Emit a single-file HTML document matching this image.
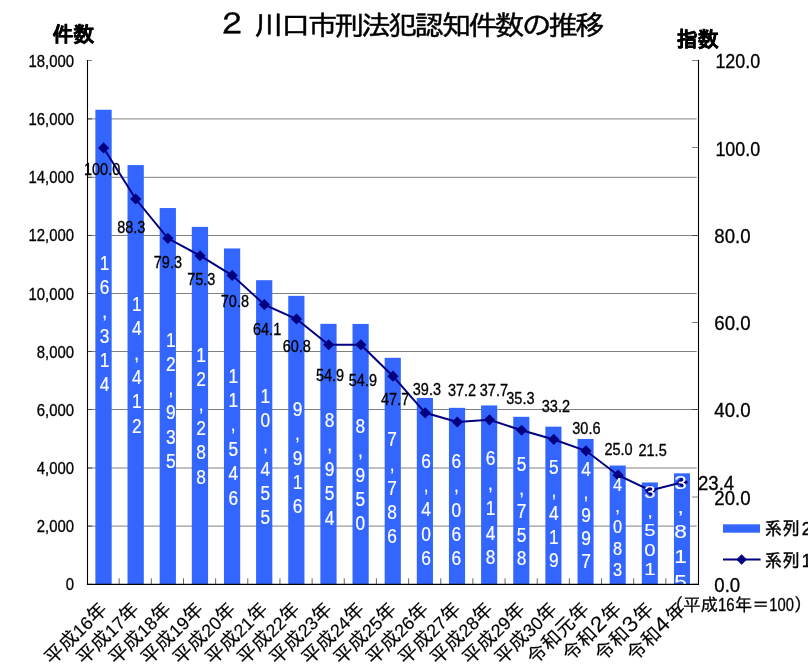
<!DOCTYPE html>
<html lang="ja"><head><meta charset="utf-8"><title>２ 川口市刑法犯認知件数の推移</title>
<style>html,body{margin:0;padding:0;background:#fff;overflow:hidden}svg{display:block}text{font-family:'Liberation Sans', 'IPAGothic', sans-serif;fill:#000}.g{font-family:'IPAGothic', 'Liberation Sans', sans-serif}.w{fill:#fff}.m{font-family:'Liberation Sans', 'IPAGothic', sans-serif}</style></head><body>
<svg xmlns="http://www.w3.org/2000/svg" width="808" height="665" viewBox="0 0 808 665">
<rect width="808" height="665" fill="#fff"/>
<defs><clipPath id="pc"><rect x="0" y="0" width="808" height="583.80"/></clipPath></defs>
<line x1="87.50" y1="526.10" x2="696.70" y2="526.10" stroke="#808080" stroke-width="1"/>
<line x1="87.50" y1="468.00" x2="696.70" y2="468.00" stroke="#808080" stroke-width="1"/>
<line x1="87.50" y1="409.50" x2="696.70" y2="409.50" stroke="#808080" stroke-width="1"/>
<line x1="87.50" y1="351.50" x2="696.70" y2="351.50" stroke="#808080" stroke-width="1"/>
<line x1="87.50" y1="293.50" x2="696.70" y2="293.50" stroke="#808080" stroke-width="1"/>
<line x1="87.50" y1="235.50" x2="696.70" y2="235.50" stroke="#808080" stroke-width="1"/>
<line x1="87.50" y1="177.30" x2="696.70" y2="177.30" stroke="#808080" stroke-width="1"/>
<line x1="87.50" y1="118.90" x2="696.70" y2="118.90" stroke="#808080" stroke-width="1"/>
<rect x="95.38" y="109.74" width="16.30" height="474.56" fill="#3366ff"/>
<rect x="127.52" y="165.07" width="16.29" height="419.23" fill="#3366ff"/>
<rect x="159.66" y="208.04" width="16.27" height="376.26" fill="#3366ff"/>
<rect x="191.81" y="226.86" width="16.25" height="357.44" fill="#3366ff"/>
<rect x="223.95" y="248.44" width="16.24" height="335.86" fill="#3366ff"/>
<rect x="256.09" y="280.18" width="16.23" height="304.12" fill="#3366ff"/>
<rect x="288.24" y="295.85" width="16.21" height="288.45" fill="#3366ff"/>
<rect x="320.38" y="323.84" width="16.20" height="260.46" fill="#3366ff"/>
<rect x="352.52" y="323.95" width="16.18" height="260.35" fill="#3366ff"/>
<rect x="384.67" y="357.81" width="16.16" height="226.49" fill="#3366ff"/>
<rect x="416.81" y="397.96" width="16.15" height="186.34" fill="#3366ff"/>
<rect x="448.95" y="407.85" width="16.14" height="176.45" fill="#3366ff"/>
<rect x="481.09" y="405.46" width="16.12" height="178.84" fill="#3366ff"/>
<rect x="513.24" y="416.81" width="16.11" height="167.49" fill="#3366ff"/>
<rect x="545.38" y="426.67" width="16.09" height="157.63" fill="#3366ff"/>
<rect x="577.52" y="438.94" width="16.07" height="145.36" fill="#3366ff"/>
<rect x="609.67" y="465.53" width="16.06" height="118.77" fill="#3366ff"/>
<rect x="641.81" y="482.46" width="16.05" height="101.84" fill="#3366ff"/>
<rect x="673.95" y="473.33" width="16.03" height="110.97" fill="#3366ff"/>
<line x1="87.50" y1="584.30" x2="92.10" y2="584.30" stroke="#808080" stroke-width="1"/>
<line x1="87.50" y1="526.10" x2="92.10" y2="526.10" stroke="#4a4a4a" stroke-width="1"/>
<line x1="87.50" y1="468.00" x2="92.10" y2="468.00" stroke="#4a4a4a" stroke-width="1"/>
<line x1="87.50" y1="409.50" x2="92.10" y2="409.50" stroke="#4a4a4a" stroke-width="1"/>
<line x1="87.50" y1="351.50" x2="92.10" y2="351.50" stroke="#4a4a4a" stroke-width="1"/>
<line x1="87.50" y1="293.50" x2="92.10" y2="293.50" stroke="#4a4a4a" stroke-width="1"/>
<line x1="87.50" y1="235.50" x2="92.10" y2="235.50" stroke="#4a4a4a" stroke-width="1"/>
<line x1="87.50" y1="177.30" x2="92.10" y2="177.30" stroke="#4a4a4a" stroke-width="1"/>
<line x1="87.50" y1="118.90" x2="92.10" y2="118.90" stroke="#4a4a4a" stroke-width="1"/>
<line x1="87.50" y1="60.50" x2="92.10" y2="60.50" stroke="#808080" stroke-width="1"/>
<line x1="692.10" y1="584.30" x2="698.50" y2="584.30" stroke="#808080" stroke-width="1"/>
<line x1="692.10" y1="497.00" x2="698.50" y2="497.00" stroke="#808080" stroke-width="1"/>
<line x1="692.10" y1="409.50" x2="698.50" y2="409.50" stroke="#4a4a4a" stroke-width="1"/>
<line x1="692.10" y1="322.50" x2="698.50" y2="322.50" stroke="#808080" stroke-width="1"/>
<line x1="692.10" y1="235.50" x2="698.50" y2="235.50" stroke="#4a4a4a" stroke-width="1"/>
<line x1="692.10" y1="147.50" x2="698.50" y2="147.50" stroke="#808080" stroke-width="1"/>
<line x1="692.10" y1="60.50" x2="698.50" y2="60.50" stroke="#808080" stroke-width="1"/>
<line x1="119.16" y1="578.30" x2="119.16" y2="584.30" stroke="#666" stroke-width="1"/>
<line x1="151.32" y1="578.30" x2="151.32" y2="584.30" stroke="#666" stroke-width="1"/>
<line x1="183.47" y1="578.30" x2="183.47" y2="584.30" stroke="#666" stroke-width="1"/>
<line x1="215.63" y1="578.30" x2="215.63" y2="584.30" stroke="#666" stroke-width="1"/>
<line x1="247.79" y1="578.30" x2="247.79" y2="584.30" stroke="#666" stroke-width="1"/>
<line x1="279.95" y1="578.30" x2="279.95" y2="584.30" stroke="#666" stroke-width="1"/>
<line x1="312.11" y1="578.30" x2="312.11" y2="584.30" stroke="#666" stroke-width="1"/>
<line x1="344.26" y1="578.30" x2="344.26" y2="584.30" stroke="#666" stroke-width="1"/>
<line x1="376.42" y1="578.30" x2="376.42" y2="584.30" stroke="#666" stroke-width="1"/>
<line x1="408.58" y1="578.30" x2="408.58" y2="584.30" stroke="#666" stroke-width="1"/>
<line x1="440.74" y1="578.30" x2="440.74" y2="584.30" stroke="#666" stroke-width="1"/>
<line x1="472.89" y1="578.30" x2="472.89" y2="584.30" stroke="#666" stroke-width="1"/>
<line x1="505.05" y1="578.30" x2="505.05" y2="584.30" stroke="#666" stroke-width="1"/>
<line x1="537.21" y1="578.30" x2="537.21" y2="584.30" stroke="#666" stroke-width="1"/>
<line x1="569.37" y1="578.30" x2="569.37" y2="584.30" stroke="#666" stroke-width="1"/>
<line x1="601.53" y1="578.30" x2="601.53" y2="584.30" stroke="#666" stroke-width="1"/>
<line x1="633.68" y1="578.30" x2="633.68" y2="584.30" stroke="#666" stroke-width="1"/>
<line x1="665.84" y1="578.30" x2="665.84" y2="584.30" stroke="#666" stroke-width="1"/>
<path d="M87.50 60.00 V584.90 M698.50 60.00 V584.90" fill="none" stroke="#000" stroke-width="1.1"/>
<line x1="87.00" y1="584.30" x2="699.00" y2="584.30" stroke="#000" stroke-width="1.3"/>
<polyline points="103.58,147.97 135.74,199.02 167.89,238.29 200.05,255.74 232.21,275.38 264.37,304.61 296.53,319.01 328.68,344.75 360.84,344.75 393.00,376.17 425.16,412.82 457.32,421.98 489.47,419.80 521.63,430.27 553.79,439.44 585.95,450.78 618.11,475.22 650.26,490.49 682.42,482.20" fill="none" stroke="#000080" stroke-width="2"/>
<path d="M103.58 142.37 L109.18 147.97 L103.58 153.57 L97.98 147.97 Z" fill="#000080"/>
<path d="M135.74 193.42 L141.34 199.02 L135.74 204.62 L130.14 199.02 Z" fill="#000080"/>
<path d="M167.89 232.69 L173.49 238.29 L167.89 243.89 L162.29 238.29 Z" fill="#000080"/>
<path d="M200.05 250.14 L205.65 255.74 L200.05 261.34 L194.45 255.74 Z" fill="#000080"/>
<path d="M232.21 269.78 L237.81 275.38 L232.21 280.98 L226.61 275.38 Z" fill="#000080"/>
<path d="M264.37 299.01 L269.97 304.61 L264.37 310.21 L258.77 304.61 Z" fill="#000080"/>
<path d="M296.53 313.41 L302.13 319.01 L296.53 324.61 L290.93 319.01 Z" fill="#000080"/>
<path d="M328.68 339.15 L334.28 344.75 L328.68 350.35 L323.08 344.75 Z" fill="#000080"/>
<path d="M360.84 339.15 L366.44 344.75 L360.84 350.35 L355.24 344.75 Z" fill="#000080"/>
<path d="M393.00 370.57 L398.60 376.17 L393.00 381.77 L387.40 376.17 Z" fill="#000080"/>
<path d="M425.16 407.22 L430.76 412.82 L425.16 418.42 L419.56 412.82 Z" fill="#000080"/>
<path d="M457.32 416.38 L462.92 421.98 L457.32 427.58 L451.72 421.98 Z" fill="#000080"/>
<path d="M489.47 414.20 L495.07 419.80 L489.47 425.40 L483.87 419.80 Z" fill="#000080"/>
<path d="M521.63 424.67 L527.23 430.27 L521.63 435.87 L516.03 430.27 Z" fill="#000080"/>
<path d="M553.79 433.84 L559.39 439.44 L553.79 445.04 L548.19 439.44 Z" fill="#000080"/>
<path d="M585.95 445.18 L591.55 450.78 L585.95 456.38 L580.35 450.78 Z" fill="#000080"/>
<path d="M618.11 469.62 L623.71 475.22 L618.11 480.82 L612.51 475.22 Z" fill="#000080"/>
<path d="M650.26 484.89 L655.86 490.49 L650.26 496.09 L644.66 490.49 Z" fill="#000080"/>
<path d="M682.42 476.60 L688.02 482.20 L682.42 487.80 L676.82 482.20 Z" fill="#000080"/>
<g clip-path="url(#pc)">
<text class="w" transform="translate(104.58,270.30) scale(0.890,1)" font-size="19.50" text-anchor="middle" stroke="#fff" stroke-width="0.20"><tspan x="0" y="0.00">1</tspan><tspan x="0" y="24.10">6</tspan><tspan x="0" y="48.20">,</tspan><tspan x="0" y="72.30">3</tspan><tspan x="0" y="96.40">1</tspan><tspan x="0" y="120.50">4</tspan></text>
<text class="w" transform="translate(136.74,311.20) scale(0.890,1)" font-size="19.50" text-anchor="middle" stroke="#fff" stroke-width="0.20"><tspan x="0" y="0.00">1</tspan><tspan x="0" y="24.30">4</tspan><tspan x="0" y="48.60">,</tspan><tspan x="0" y="72.90">4</tspan><tspan x="0" y="97.20">1</tspan><tspan x="0" y="121.50">2</tspan></text>
<text class="w" transform="translate(170.89,346.50) scale(0.890,1)" font-size="19.50" text-anchor="middle" stroke="#fff" stroke-width="0.20"><tspan x="0" y="0.00">1</tspan><tspan x="0" y="24.30">2</tspan><tspan x="0" y="48.60">,</tspan><tspan x="0" y="72.90">9</tspan><tspan x="0" y="97.20">3</tspan><tspan x="0" y="121.50">5</tspan></text>
<text class="w" transform="translate(201.05,362.10) scale(0.890,1)" font-size="19.50" text-anchor="middle" stroke="#fff" stroke-width="0.20"><tspan x="0" y="0.00">1</tspan><tspan x="0" y="24.30">2</tspan><tspan x="0" y="48.60">,</tspan><tspan x="0" y="72.90">2</tspan><tspan x="0" y="97.20">8</tspan><tspan x="0" y="121.50">8</tspan></text>
<text class="w" transform="translate(233.21,382.70) scale(0.890,1)" font-size="19.50" text-anchor="middle" stroke="#fff" stroke-width="0.20"><tspan x="0" y="0.00">1</tspan><tspan x="0" y="24.40">1</tspan><tspan x="0" y="48.80">,</tspan><tspan x="0" y="73.20">5</tspan><tspan x="0" y="97.60">4</tspan><tspan x="0" y="122.00">6</tspan></text>
<text class="w" transform="translate(265.37,402.50) scale(0.890,1)" font-size="19.50" text-anchor="middle" stroke="#fff" stroke-width="0.20"><tspan x="0" y="0.00">1</tspan><tspan x="0" y="24.40">0</tspan><tspan x="0" y="48.80">,</tspan><tspan x="0" y="73.20">4</tspan><tspan x="0" y="97.60">5</tspan><tspan x="0" y="122.00">5</tspan></text>
<text class="w" transform="translate(297.53,416.20) scale(0.890,1)" font-size="19.50" text-anchor="middle" stroke="#fff" stroke-width="0.20"><tspan x="0" y="0.00">9</tspan><tspan x="0" y="24.30">,</tspan><tspan x="0" y="48.60">9</tspan><tspan x="0" y="72.90">1</tspan><tspan x="0" y="97.20">6</tspan></text>
<text class="w" transform="translate(329.68,427.10) scale(0.890,1)" font-size="19.50" text-anchor="middle" stroke="#fff" stroke-width="0.20"><tspan x="0" y="0.00">8</tspan><tspan x="0" y="24.40">,</tspan><tspan x="0" y="48.80">9</tspan><tspan x="0" y="73.20">5</tspan><tspan x="0" y="97.60">4</tspan></text>
<text class="w" transform="translate(360.34,432.80) scale(0.890,1)" font-size="19.50" text-anchor="middle" stroke="#fff" stroke-width="0.20"><tspan x="0" y="0.00">8</tspan><tspan x="0" y="24.40">,</tspan><tspan x="0" y="48.80">9</tspan><tspan x="0" y="73.20">5</tspan><tspan x="0" y="97.60">0</tspan></text>
<text class="w" transform="translate(392.10,446.40) scale(0.890,1)" font-size="19.50" text-anchor="middle" stroke="#fff" stroke-width="0.20"><tspan x="0" y="0.00">7</tspan><tspan x="0" y="24.20">,</tspan><tspan x="0" y="48.40">7</tspan><tspan x="0" y="72.60">8</tspan><tspan x="0" y="96.80">6</tspan></text>
<text class="w" transform="translate(426.16,467.50) scale(0.890,1)" font-size="19.50" text-anchor="middle" stroke="#fff" stroke-width="0.20"><tspan x="0" y="0.00">6</tspan><tspan x="0" y="24.40">,</tspan><tspan x="0" y="48.80">4</tspan><tspan x="0" y="73.20">0</tspan><tspan x="0" y="97.60">6</tspan></text>
<text class="w" transform="translate(456.32,468.30) scale(0.890,1)" font-size="19.50" text-anchor="middle" stroke="#fff" stroke-width="0.20"><tspan x="0" y="0.00">6</tspan><tspan x="0" y="24.20">,</tspan><tspan x="0" y="48.40">0</tspan><tspan x="0" y="72.60">6</tspan><tspan x="0" y="96.80">6</tspan></text>
<text class="w" transform="translate(490.47,465.20) scale(0.890,1)" font-size="19.50" text-anchor="middle" stroke="#fff" stroke-width="0.20"><tspan x="0" y="0.00">6</tspan><tspan x="0" y="24.80">,</tspan><tspan x="0" y="49.60">1</tspan><tspan x="0" y="74.40">4</tspan><tspan x="0" y="99.20">8</tspan></text>
<text class="w" transform="translate(521.63,471.40) scale(0.890,1)" font-size="19.50" text-anchor="middle" stroke="#fff" stroke-width="0.20"><tspan x="0" y="0.00">5</tspan><tspan x="0" y="23.45">,</tspan><tspan x="0" y="46.90">7</tspan><tspan x="0" y="70.35">5</tspan><tspan x="0" y="93.80">8</tspan></text>
<text class="w" transform="translate(553.79,473.90) scale(0.890,1)" font-size="19.50" text-anchor="middle" stroke="#fff" stroke-width="0.20"><tspan x="0" y="0.00">5</tspan><tspan x="0" y="23.25">,</tspan><tspan x="0" y="46.50">4</tspan><tspan x="0" y="69.75">1</tspan><tspan x="0" y="93.00">9</tspan></text>
<text class="w" transform="translate(585.95,476.40) scale(0.890,1)" font-size="19.50" text-anchor="middle" stroke="#fff" stroke-width="0.20"><tspan x="0" y="0.00">4</tspan><tspan x="0" y="22.95">,</tspan><tspan x="0" y="45.90">9</tspan><tspan x="0" y="68.85">9</tspan><tspan x="0" y="91.80">7</tspan></text>
<text class="w" transform="translate(617.61,491.30) scale(0.890,1)" font-size="18.40" text-anchor="middle" stroke="#fff" stroke-width="0.20"><tspan x="0" y="0.00">4</tspan><tspan x="0" y="21.10">,</tspan><tspan x="0" y="42.20">0</tspan><tspan x="0" y="63.30">8</tspan><tspan x="0" y="84.40">3</tspan></text>
<text class="w" transform="translate(649.96,497.50) scale(1.240,1)" font-size="16.40" text-anchor="middle" stroke="#fff" stroke-width="0.10"><tspan x="0" y="0.00">3</tspan><tspan x="0" y="19.40">,</tspan><tspan x="0" y="38.80">5</tspan><tspan x="0" y="58.20">0</tspan><tspan x="0" y="77.60">1</tspan></text>
<text class="w" transform="translate(680.62,488.80) scale(1.240,1)" font-size="18.30" text-anchor="middle" stroke="#fff" stroke-width="0.10"><tspan x="0" y="0.00">3</tspan><tspan x="0" y="24.70">,</tspan><tspan x="0" y="49.40">8</tspan><tspan x="0" y="74.10">1</tspan><tspan x="0" y="98.80">5</tspan></text>
</g>
<text transform="translate(102.10,175.20) scale(0.9300,1)" font-size="15.60" text-anchor="middle" stroke="#000" stroke-width="0.30">100.0</text>
<text transform="translate(131.30,233.00) scale(0.9300,1)" font-size="15.60" text-anchor="middle" stroke="#000" stroke-width="0.30">88.3</text>
<text transform="translate(167.90,268.00) scale(0.9300,1)" font-size="15.60" text-anchor="middle" stroke="#000" stroke-width="0.30">79.3</text>
<text transform="translate(201.30,285.10) scale(0.9300,1)" font-size="15.60" text-anchor="middle" stroke="#000" stroke-width="0.30">75.3</text>
<text transform="translate(234.90,307.00) scale(0.9300,1)" font-size="15.60" text-anchor="middle" stroke="#000" stroke-width="0.30">70.8</text>
<text transform="translate(267.10,335.30) scale(0.9300,1)" font-size="15.60" text-anchor="middle" stroke="#000" stroke-width="0.30">64.1</text>
<text transform="translate(296.80,352.20) scale(0.9300,1)" font-size="15.60" text-anchor="middle" stroke="#000" stroke-width="0.30">60.8</text>
<text transform="translate(330.00,381.40) scale(0.9300,1)" font-size="15.60" text-anchor="middle" stroke="#000" stroke-width="0.30">54.9</text>
<text transform="translate(362.90,386.40) scale(0.9300,1)" font-size="15.60" text-anchor="middle" stroke="#000" stroke-width="0.30">54.9</text>
<text transform="translate(395.10,405.00) scale(0.9300,1)" font-size="15.60" text-anchor="middle" stroke="#000" stroke-width="0.30">47.7</text>
<text transform="translate(426.90,395.00) scale(0.9300,1)" font-size="15.60" text-anchor="middle" stroke="#000" stroke-width="0.30">39.3</text>
<text transform="translate(462.00,396.30) scale(0.9300,1)" font-size="15.60" text-anchor="middle" stroke="#000" stroke-width="0.30">37.2</text>
<text transform="translate(493.90,396.30) scale(0.9300,1)" font-size="15.60" text-anchor="middle" stroke="#000" stroke-width="0.30">37.7</text>
<text transform="translate(520.40,404.00) scale(0.9300,1)" font-size="15.60" text-anchor="middle" stroke="#000" stroke-width="0.30">35.3</text>
<text transform="translate(555.90,412.00) scale(0.9300,1)" font-size="15.60" text-anchor="middle" stroke="#000" stroke-width="0.30">33.2</text>
<text transform="translate(586.40,434.40) scale(0.9300,1)" font-size="15.60" text-anchor="middle" stroke="#000" stroke-width="0.30">30.6</text>
<text transform="translate(618.50,455.20) scale(0.9300,1)" font-size="15.60" text-anchor="middle" stroke="#000" stroke-width="0.30">25.0</text>
<text transform="translate(652.60,455.60) scale(0.9300,1)" font-size="15.60" text-anchor="middle" stroke="#000" stroke-width="0.30">21.5</text>
<text transform="translate(698.00,489.80) scale(0.8930,1)" font-size="20.80" text-anchor="start" stroke="#000" stroke-width="0.30">23.4</text>
<text transform="translate(74.10,589.70) scale(0.9500,1)" font-size="15.70" text-anchor="end" stroke="#000" stroke-width="0.30">0</text>
<text transform="translate(74.10,532.32) scale(0.9500,1)" font-size="15.70" text-anchor="end" stroke="#000" stroke-width="0.30">2,000</text>
<text transform="translate(74.10,474.14) scale(0.9500,1)" font-size="15.70" text-anchor="end" stroke="#000" stroke-width="0.30">4,000</text>
<text transform="translate(74.10,415.97) scale(0.9500,1)" font-size="15.70" text-anchor="end" stroke="#000" stroke-width="0.30">6,000</text>
<text transform="translate(74.10,357.79) scale(0.9500,1)" font-size="15.70" text-anchor="end" stroke="#000" stroke-width="0.30">8,000</text>
<text transform="translate(74.10,299.61) scale(0.9500,1)" font-size="15.70" text-anchor="end" stroke="#000" stroke-width="0.30">10,000</text>
<text transform="translate(74.10,241.43) scale(0.9500,1)" font-size="15.70" text-anchor="end" stroke="#000" stroke-width="0.30">12,000</text>
<text transform="translate(74.10,183.26) scale(0.9500,1)" font-size="15.70" text-anchor="end" stroke="#000" stroke-width="0.30">14,000</text>
<text transform="translate(74.10,125.08) scale(0.9500,1)" font-size="15.70" text-anchor="end" stroke="#000" stroke-width="0.30">16,000</text>
<text transform="translate(74.10,66.90) scale(0.9500,1)" font-size="15.70" text-anchor="end" stroke="#000" stroke-width="0.30">18,000</text>
<text transform="translate(714.30,592.00) scale(0.9600,1)" font-size="19.40" text-anchor="start" stroke="#000" stroke-width="0.30">0.0</text>
<text transform="translate(714.30,504.73) scale(0.9600,1)" font-size="19.40" text-anchor="start" stroke="#000" stroke-width="0.30">20.0</text>
<text transform="translate(714.30,417.47) scale(0.9600,1)" font-size="19.40" text-anchor="start" stroke="#000" stroke-width="0.30">40.0</text>
<text transform="translate(714.30,330.20) scale(0.9600,1)" font-size="19.40" text-anchor="start" stroke="#000" stroke-width="0.30">60.0</text>
<text transform="translate(714.30,242.93) scale(0.9600,1)" font-size="19.40" text-anchor="start" stroke="#000" stroke-width="0.30">80.0</text>
<text transform="translate(715.40,155.67) scale(0.9250,1)" font-size="19.40" text-anchor="start" stroke="#000" stroke-width="0.30">100.0</text>
<text transform="translate(715.40,68.40) scale(0.9250,1)" font-size="19.40" text-anchor="start" stroke="#000" stroke-width="0.30">120.0</text>
<text class="g" transform="translate(216.1,34.6) scale(1.08,1)" font-size="27.3" letter-spacing="-2.53" stroke="#000" stroke-width="0.45"><tspan x="0" dy="0.8" font-size="29.5">２ </tspan><tspan x="35.3" dy="-0.8">川口市刑法犯認知件数の推移</tspan></text>
<text class="g" transform="translate(52.30,41.80)" font-size="21.00" text-anchor="start" font-weight="bold" stroke="#000" stroke-width="0.50">件数</text>
<text class="g" transform="translate(676.80,46.70)" font-size="21.00" text-anchor="start" font-weight="bold" stroke="#000" stroke-width="0.50">指数</text>
<rect x="723" y="524.3" width="37" height="8.4" fill="#3366ff"/>
<text class="m" transform="translate(764.60,535.30) scale(0.9400,1)" font-size="18.67" text-anchor="start" stroke="#000" stroke-width="0.45">系列<tspan dx="2.2">2</tspan></text>
<line x1="723" y1="559.5" x2="760.6" y2="559.5" stroke="#000080" stroke-width="2.2"/>
<path d="M741.6 554.2 L746.9 559.5 L741.6 564.8 L736.3 559.5 Z" fill="#000080"/>
<text class="m" transform="translate(764.60,567.30) scale(0.9400,1)" font-size="18.67" text-anchor="start" stroke="#000" stroke-width="0.45">系列<tspan dx="2.2">1</tspan></text>
<text class="g" transform="translate(666.00,610.50) scale(0.9850,1)" font-size="17.60" text-anchor="start" stroke="#000" stroke-width="0.30">（平成<tspan font-family="Liberation Sans" textLength="17" lengthAdjust="spacingAndGlyphs">16</tspan>年＝<tspan font-family="Liberation Sans" textLength="25" lengthAdjust="spacingAndGlyphs">100</tspan>）</text>
<text class="m" transform="translate(108.38,610.50) rotate(-44.50)" font-size="19.60" text-anchor="end" stroke="#000" stroke-width="0.15">平成<tspan font-size="18.00">16</tspan>年</text>
<text class="m" transform="translate(140.54,610.50) rotate(-44.50)" font-size="19.60" text-anchor="end" stroke="#000" stroke-width="0.15">平成<tspan font-size="18.00">17</tspan>年</text>
<text class="m" transform="translate(172.69,610.50) rotate(-44.50)" font-size="19.60" text-anchor="end" stroke="#000" stroke-width="0.15">平成<tspan font-size="18.00">18</tspan>年</text>
<text class="m" transform="translate(204.85,610.50) rotate(-44.50)" font-size="19.60" text-anchor="end" stroke="#000" stroke-width="0.15">平成<tspan font-size="18.00">19</tspan>年</text>
<text class="m" transform="translate(237.01,610.50) rotate(-44.50)" font-size="19.60" text-anchor="end" stroke="#000" stroke-width="0.15">平成<tspan font-size="18.00">20</tspan>年</text>
<text class="m" transform="translate(269.17,610.50) rotate(-44.50)" font-size="19.60" text-anchor="end" stroke="#000" stroke-width="0.15">平成<tspan font-size="18.00">21</tspan>年</text>
<text class="m" transform="translate(301.33,610.50) rotate(-44.50)" font-size="19.60" text-anchor="end" stroke="#000" stroke-width="0.15">平成<tspan font-size="18.00">22</tspan>年</text>
<text class="m" transform="translate(333.48,610.50) rotate(-44.50)" font-size="19.60" text-anchor="end" stroke="#000" stroke-width="0.15">平成<tspan font-size="18.00">23</tspan>年</text>
<text class="m" transform="translate(365.64,610.50) rotate(-44.50)" font-size="19.60" text-anchor="end" stroke="#000" stroke-width="0.15">平成<tspan font-size="18.00">24</tspan>年</text>
<text class="m" transform="translate(397.80,610.50) rotate(-44.50)" font-size="19.60" text-anchor="end" stroke="#000" stroke-width="0.15">平成<tspan font-size="18.00">25</tspan>年</text>
<text class="m" transform="translate(429.96,610.50) rotate(-44.50)" font-size="19.60" text-anchor="end" stroke="#000" stroke-width="0.15">平成<tspan font-size="18.00">26</tspan>年</text>
<text class="m" transform="translate(462.12,610.50) rotate(-44.50)" font-size="19.60" text-anchor="end" stroke="#000" stroke-width="0.15">平成<tspan font-size="18.00">27</tspan>年</text>
<text class="m" transform="translate(494.27,610.50) rotate(-44.50)" font-size="19.60" text-anchor="end" stroke="#000" stroke-width="0.15">平成<tspan font-size="18.00">28</tspan>年</text>
<text class="m" transform="translate(526.43,610.50) rotate(-44.50)" font-size="19.60" text-anchor="end" stroke="#000" stroke-width="0.15">平成<tspan font-size="18.00">29</tspan>年</text>
<text class="m" transform="translate(558.59,610.50) rotate(-44.50)" font-size="19.60" text-anchor="end" stroke="#000" stroke-width="0.15">平成<tspan font-size="18.00">30</tspan>年</text>
<text class="m" transform="translate(590.75,610.50) rotate(-44.50)" font-size="19.60" text-anchor="end" stroke="#000" stroke-width="0.15">令和元年</text>
<text class="m" transform="translate(622.91,610.50) rotate(-44.50)" font-size="19.60" text-anchor="end" stroke="#000" stroke-width="0.15">令和<tspan font-size="21" dx="-3.0" dy="0.4">２</tspan><tspan dx="-3.0" dy="-0.4">年</tspan></text>
<text class="m" transform="translate(655.06,610.50) rotate(-44.50)" font-size="19.60" text-anchor="end" stroke="#000" stroke-width="0.15">令和<tspan font-size="21" dx="-3.0" dy="0.4">３</tspan><tspan dx="-3.0" dy="-0.4">年</tspan></text>
<text class="m" transform="translate(687.22,610.50) rotate(-44.50)" font-size="19.60" text-anchor="end" stroke="#000" stroke-width="0.15">令和<tspan font-size="21" dx="-3.0" dy="0.4">４</tspan><tspan dx="-3.0" dy="-0.4">年</tspan></text>
</svg></body></html>
